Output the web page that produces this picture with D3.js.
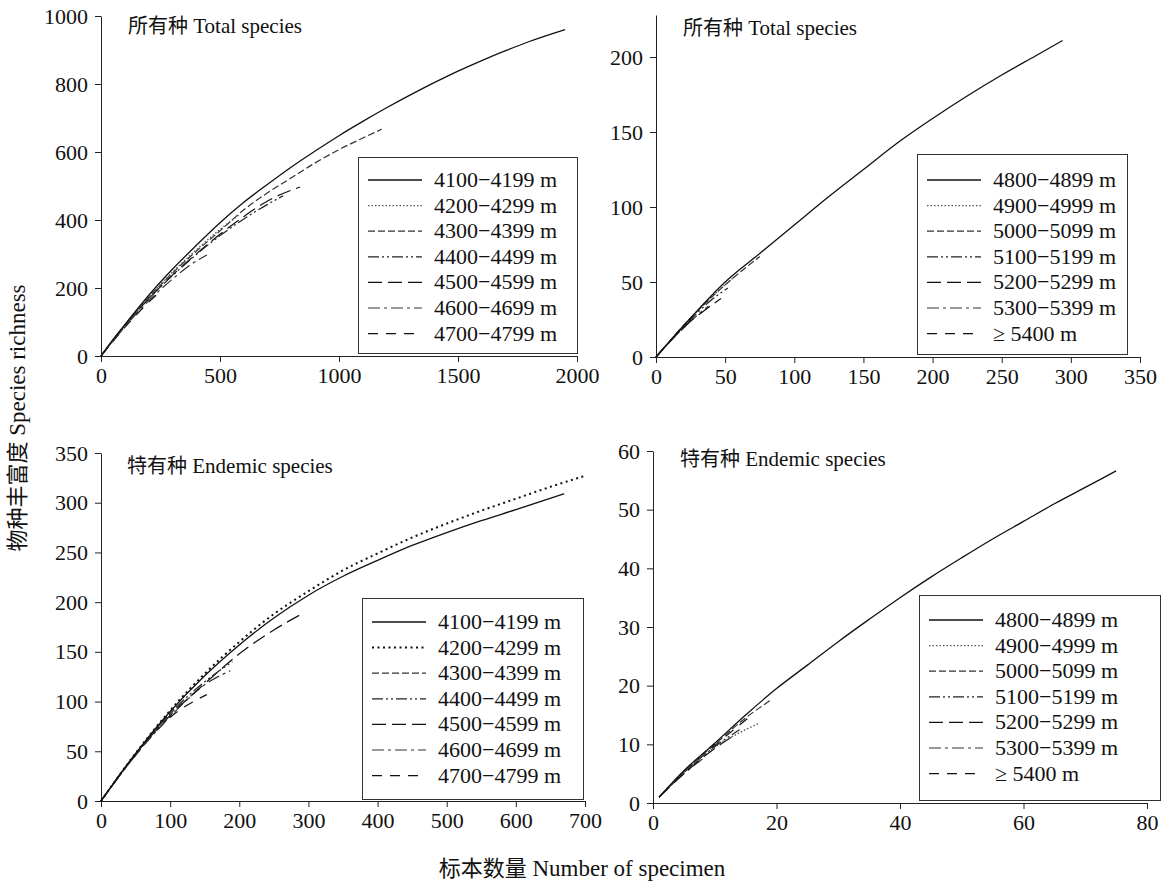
<!DOCTYPE html>
<html>
<head>
<meta charset="utf-8">
<script src="https://cdn.jsdelivr.net/npm/d3@7"></script>
<style>
  body { margin: 0; background: #fff; }
  .axis path, .axis line { stroke: #222; }
</style>
</head>
<body>
<svg id="chart" width="1165" height="883"></svg>
<script>
const serif = "'Liberation Serif', 'Times New Roman', 'DejaVu Serif', serif"
const cjk = "'Noto Sans CJK SC', 'Noto Sans CJK JP', sans-serif"

// legend labels
const lowLabels = ['4100\u22124199 m', '4200\u22124299 m', '4300\u22124399 m', '4400\u22124499 m', '4500\u22124599 m', '4600\u22124699 m', '4700\u22124799 m']
const highLabels = ['4800\u22124899 m', '4900\u22124999 m', '5000\u22125099 m', '5100\u22125199 m', '5200\u22125299 m', '5300\u22125399 m', '\u2265 5400 m']

// total species, 4100-4799 m  [specimens, species]
const tot4100 = [[0,0],[50,48],[100,92],[200,178],[300,255],[400,325],[500,392],[600,452],[700,505],[800,556],[900,603],[1000,648],[1100,690],[1200,730],[1300,768],[1400,804],[1500,838],[1600,869],[1700,898],[1800,925],[1950,960]]
const tot4200 = [[0,0],[100,90],[200,172],[300,246],[400,312],[500,372],[580,415]]
const tot4300 = [[0,0],[100,90],[200,172],[300,244],[400,308],[500,368],[600,430],[700,480],[800,524],[900,568],[1000,607],[1100,641],[1180,667]]
const tot4400 = [[0,0],[100,89],[200,168],[300,236],[400,298],[500,354],[600,403],[700,446],[765,471]]
const tot4500 = [[0,0],[100,89],[200,168],[300,238],[400,300],[500,358],[600,410],[700,456],[836,497]]
const tot4600 = [[0,0],[100,86],[200,162],[300,226],[380,270],[445,297]]
const tot4700 = [[0,0],[100,84],[200,158],[256,194]]

// total species, >= 4800 m
const tot4800 = [[0,0],[25,26],[50,50],[75,69],[100,88],[125,107],[150,125],[175,143],[200,159],[225,174],[250,188],[275,201],[294,211]]
const tot4900 = [[0,0],[20,21],[40,40],[60,56]]
const tot5000 = [[0,0],[25,26],[50,48],[75,67]]
const tot5100 = [[0,0],[25,25],[40,38],[52,46]]
const tot5200 = [[0,0],[20,20],[35,31],[47,39]]
const tot5300 = [[0,0],[15,15],[30,28],[38,34]]
const tot5400 = [[0,0],[12,12],[25,24]]

// endemic species, 4100-4799 m
const end4100 = [[0,0],[50,48],[100,90],[150,126],[200,157],[250,184],[300,207],[350,226],[400,242],[450,257],[500,270],[550,282],[600,293],[670,309]]
const end4200 = [[0,0],[50,48],[100,91],[150,128],[200,160],[250,188],[300,211],[350,232],[400,249],[450,265],[500,279],[550,292],[600,304],[650,316],[700,327]]
const end4300 = [[0,0],[50,47],[100,88],[130,105]]
const end4400 = [[0,0],[50,47],[100,88],[150,120],[190,140]]
const end4500 = [[0,0],[50,47],[100,86],[150,118],[200,148],[250,172],[290,188]]
const end4600 = [[0,0],[50,46],[100,85],[150,117],[187,131]]
const end4700 = [[0,0],[50,46],[100,84],[153,107]]

// endemic species, >= 4800 m
const end4800 = [[1,1],[5,5.5],[10,10.2],[15,15],[20,19.5],[25,23.5],[30,27.5],[35,31.3],[40,35],[45,38.5],[50,41.8],[55,45],[60,48],[65,51],[70,53.8],[75,56.6]]
const end4900 = [[1,1],[5,5.3],[10,9.5],[17,13.5]]
const end5000 = [[1,1],[5,5.4],[10,10],[15,14.5],[19,17.5]]
const end5100 = [[1,1],[5,5.2],[10,9.6],[14,12.5]]
const end5200 = [[1,1],[5,5],[10,9.3],[13,11.4]]
const end5300 = [[1,1],[5,5],[8,7.5]]
const end5400 = [[1,1],[5,5.2],[10,9.8],[16,15]]

// line styles, same order as the legend rows
const styles = [
    { dash: null, color: '#111', width: 1.3 },
    { dash: '1.5,2', color: '#555', width: 1.4 },
    { dash: '7,3', color: '#333', width: 1.2 },
    { dash: '11,3,2,3,2,3', color: '#222', width: 1.2 },
    { dash: '14,6', color: '#111', width: 1.2 },
    { dash: '12,4,3,4', color: '#333', width: 1.2 },
    { dash: '10,8', color: '#111', width: 1.2 }
]
// the endemic 4200 m curve is printed with heavier round dots
const boldDots = { dash: '2,3.5', color: '#111', width: 2 }

const panels = [
    { series: [tot4100, tot4200, tot4300, tot4400, tot4500, tot4600, tot4700], labels: lowLabels,
      title: ['所有种', ' Total species'], tx: 128, ty: 33, dots: styles[1],
      x: [0, 2000], xr: [101, 577], xStep: 500, y: [0, 1000], yr: [356, 16], yStep: 200, yMax: 1000,
      legend: { x: 358, y: 157, w: 219, h: 196, row0: 180 } },
    { series: [tot4800, tot4900, tot5000, tot5100, tot5200, tot5300, tot5400], labels: highLabels,
      title: ['所有种', ' Total species'], tx: 683, ty: 35, dots: styles[1],
      x: [0, 350], xr: [656, 1140], xStep: 50, y: [0, 228], yr: [357, 15], yStep: 50, yMax: 200,
      legend: { x: 917, y: 154, w: 210, h: 200, row0: 180 } },
    { series: [end4100, end4200, end4300, end4400, end4500, end4600, end4700], labels: lowLabels,
      title: ['特有种', '  Endemic species'], tx: 127, ty: 473, dots: boldDots,
      x: [0, 700], xr: [101, 585], xStep: 100, y: [0, 350], yr: [801, 453], yStep: 50, yMax: 350,
      legend: { x: 362, y: 598, w: 221, h: 201, row0: 622 } },
    { series: [end4800, end4900, end5000, end5100, end5200, end5300, end5400], labels: highLabels,
      title: ['特有种', '  Endemic species'], tx: 680, ty: 466, dots: styles[1],
      x: [0, 80], xr: [653, 1147], xStep: 20, y: [0, 60], yr: [803, 451], yStep: 10, yMax: 60,
      legend: { x: 919, y: 595, w: 241, h: 205, row0: 620 } }
]

const svg = d3.select('#chart')

panels.forEach(p => {
    const x = d3.scaleLinear().domain(p.x).range(p.xr)
    const y = d3.scaleLinear().domain(p.y).range(p.yr)
    const g = svg.append('g')
    const styleOf = i => i === 1 ? p.dots : styles[i]

    g.append('g')
        .attr('class', 'axis')
        .attr('transform', `translate(0,${p.yr[0]})`)
        .call(d3.axisBottom(x).tickValues(d3.range(p.x[0], p.x[1] + 1, p.xStep)).tickFormat(d3.format('d'))
            .tickSizeInner(6).tickSizeOuter(0).tickPadding(5))

    g.append('g')
        .attr('class', 'axis')
        .attr('transform', `translate(${p.xr[0]},0)`)
        .call(d3.axisLeft(y).tickValues(d3.range(0, p.yMax + 1, p.yStep)).tickFormat(d3.format('d'))
            .tickSizeInner(6).tickSizeOuter(0).tickPadding(7))

    g.selectAll('.axis')
        .attr('font-family', serif)
        .attr('font-size', 22)
    g.selectAll('.axis text')
        .style('font-family', serif)
        .attr('fill', '#111')

    const line = d3.line()
        .x(d => x(d[0]))
        .y(d => y(d[1]))
        .curve(d3.curveMonotoneX)

    // draw the long solid curve last so it sits on top
    p.series.map((s, i) => ({ s, i })).reverse().forEach(({ s, i }) => {
        const st = styleOf(i)
        g.append('path')
            .datum(s)
            .attr('d', line)
            .attr('fill', 'none')
            .attr('stroke', st.color)
            .attr('stroke-width', st.width)
            .attr('stroke-dasharray', st.dash)
    })

    const title = g.append('text')
        .attr('x', p.tx)
        .attr('y', p.ty)
        .attr('font-size', 21)
        .attr('fill', '#111')
        .style('font-family', serif)
    title.append('tspan').style('font-family', cjk).attr('font-size', 20).text(p.title[0])
    title.append('tspan').style('font-family', serif).text(p.title[1])

    const lg = p.legend
    g.append('rect')
        .attr('x', lg.x + 0.5)
        .attr('y', lg.y + 0.5)
        .attr('width', lg.w)
        .attr('height', lg.h)
        .attr('fill', '#fff')
        .attr('stroke', '#333')
        .attr('stroke-width', 1)

    p.labels.forEach((lab, i) => {
        const ry = lg.row0 + i * 25.6
        const st = styleOf(i)
        g.append('line')
            .attr('x1', lg.x + 10)
            .attr('x2', lg.x + 64)
            .attr('y1', ry)
            .attr('y2', ry)
            .attr('stroke', st.color)
            .attr('stroke-width', st.width)
            .attr('stroke-dasharray', st.dash)
        g.append('text')
            .attr('x', lg.x + 76)
            .attr('y', ry + 7)
            .attr('font-size', 22)
            .attr('fill', '#111')
            .style('font-family', serif)
            .text(lab)
    })
})

// shared axis titles
const xt = svg.append('text')
    .attr('x', 582)
    .attr('y', 876)
    .attr('text-anchor', 'middle')
    .attr('font-size', 23)
    .attr('fill', '#111')
    .style('font-family', serif)
xt.append('tspan').style('font-family', cjk).attr('font-size', 22).text('标本数量')
xt.append('tspan').style('font-family', serif).text(' Number of specimen')

const yt = svg.append('text')
    .attr('transform', 'translate(25,418) rotate(-90)')
    .attr('text-anchor', 'middle')
    .attr('font-size', 23)
    .attr('fill', '#111')
    .style('font-family', serif)
yt.append('tspan').style('font-family', cjk).attr('font-size', 22).text('物种丰富度')
yt.append('tspan').style('font-family', serif).text(' Species richness')
</script>
</body>
</html>
